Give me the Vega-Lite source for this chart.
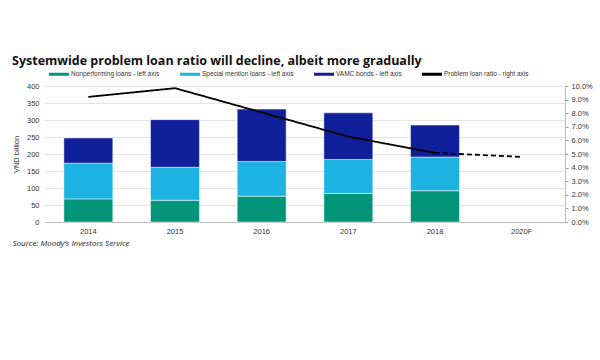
{
  "$schema": "https://vega.github.io/schema/vega-lite/v6.json",
  "width": 520,
  "height": 136,
  "autosize": {"type": "none"},
  "padding": {"left": 45, "top": 86, "right": 35, "bottom": 138},
  "background": "white",
  "config": {
    "view": {"stroke": null},
    "font": "Liberation Sans",
    "axis": {"labelFont": "Liberation Sans", "labelFontSize": 7.5, "labelColor": "#333", "titleFont": "Liberation Sans", "titleFontWeight": "normal", "titleFontSize": 7.5, "titleColor": "#333"}
  },
  "title": {
    "text": "Systemwide problem loan ratio will decline, albeit more gradually",
    "anchor": "start",
    "frame": "group",
    "font": "Open Sans",
    "fontSize": 12.5,
    "fontWeight": "bold",
    "color": "#111",
    "dx": -33,
    "offset": -7
  },
  "datasets": {
    "bars": [
      {"year": "2014", "series": "Nonperforming loans - left axis", "value": 68},
      {"year": "2014", "series": "Special mention loans - left axis", "value": 105},
      {"year": "2014", "series": "VAMC bonds - left axis", "value": 74},
      {"year": "2015", "series": "Nonperforming loans - left axis", "value": 64},
      {"year": "2015", "series": "Special mention loans - left axis", "value": 97},
      {"year": "2015", "series": "VAMC bonds - left axis", "value": 140},
      {"year": "2016", "series": "Nonperforming loans - left axis", "value": 76},
      {"year": "2016", "series": "Special mention loans - left axis", "value": 102},
      {"year": "2016", "series": "VAMC bonds - left axis", "value": 154},
      {"year": "2017", "series": "Nonperforming loans - left axis", "value": 84},
      {"year": "2017", "series": "Special mention loans - left axis", "value": 100},
      {"year": "2017", "series": "VAMC bonds - left axis", "value": 137},
      {"year": "2018", "series": "Nonperforming loans - left axis", "value": 92},
      {"year": "2018", "series": "Special mention loans - left axis", "value": 99},
      {"year": "2018", "series": "VAMC bonds - left axis", "value": 94}
    ],
    "ratio": [
      {"year": "2014", "ratio": 0.092, "segment": "actual", "series": "Problem loan ratio - right axis"},
      {"year": "2015", "ratio": 0.0984, "segment": "actual", "series": "Problem loan ratio - right axis"},
      {"year": "2016", "ratio": 0.0806, "segment": "actual", "series": "Problem loan ratio - right axis"},
      {"year": "2017", "ratio": 0.0628, "segment": "actual", "series": "Problem loan ratio - right axis"},
      {"year": "2018", "ratio": 0.0508, "segment": "actual", "series": "Problem loan ratio - right axis"},
      {"year": "2018", "ratio": 0.0508, "segment": "forecast", "series": "Problem loan ratio - right axis"},
      {"year": "2020F", "ratio": 0.0479, "segment": "forecast", "series": "Problem loan ratio - right axis"}
    ]
  },
  "encoding": {
    "x": {
      "field": "year",
      "type": "nominal",
      "scale": {"domain": ["2014", "2015", "2016", "2017", "2018", "2020F"], "paddingInner": 0.435, "paddingOuter": 0.2175},
      "axis": {
        "title": "Source: Moody\u2019s Investors Service",
        "titleFont": "Open Sans",
        "titleFontStyle": "italic",
        "titleFontSize": 8,
        "titleColor": "#222",
        "titleAnchor": "start",
        "titleAlign": "left",
        "titleX": -33,
        "titleY": 17,
        "labelAngle": 0,
        "labelPadding": 5,
        "ticks": false,
        "domain": true,
        "domainColor": "#bbb"
      }
    }
  },
  "layer": [
    {
      "data": {"name": "bars"},
      "mark": {"type": "bar", "stroke": "white", "strokeWidth": 0.5},
      "encoding": {
        "y": {
          "field": "value",
          "type": "quantitative",
          "stack": "zero",
          "scale": {"domain": [0, 400]},
          "axis": {"title": "VND billion", "titlePadding": 6, "values": [0, 50, 100, 150, 200, 250, 300, 350, 400], "domain": false, "ticks": false, "labelPadding": 6, "gridColor": "#e3e3e3", "gridWidth": 1}
        },
        "order": {"field": "series", "type": "nominal", "sort": "ascending"},
        "color": {
          "field": "series",
          "type": "nominal",
          "scale": {
            "domain": ["Nonperforming loans - left axis", "Special mention loans - left axis", "VAMC bonds - left axis", "Problem loan ratio - right axis"],
            "range": ["#02957a", "#1cb2e2", "#0f209a", "#000000"]
          },
          "legend": {
            "title": null,
            "orient": "top",
            "direction": "horizontal",
            "offset": 2,
            "padding": 4,
            "labelFont": "Liberation Sans",
            "labelFontSize": 6.5,
            "labelColor": "#333",
            "labelOffset": 2,
            "columnPadding": 20,
            "symbolSize": 400,
            "symbolType": "M-1,-0.15H1V0.15H-1Z",
            "symbolStrokeWidth": 0,
            "encode": {
              "symbols": {
                "update": {
                  "shape": {"signal": "datum.value === 'Problem loan ratio - right axis' ? 'M-1,-0.07H1V0.07H-1Z' : 'M-1,-0.15H1V0.15H-1Z'"},
                  "fill": {"signal": "datum.value === 'Problem loan ratio - right axis' ? '#000' : datum.value === 'VAMC bonds - left axis' ? '#0f209a' : datum.value === 'Special mention loans - left axis' ? '#1cb2e2' : '#02957a'"},
                  "strokeWidth": {"value": 0},
                  "opacity": {"value": 1}
                }
              }
            }
          }
        }
      }
    },
    {
      "data": {"name": "ratio"},
      "mark": {"type": "line", "strokeWidth": 1.8},
      "encoding": {
        "y": {
          "field": "ratio",
          "type": "quantitative",
          "scale": {"domain": [0, 0.1]},
          "axis": {"orient": "right", "title": null, "format": ".1%", "values": [0, 0.01, 0.02, 0.03, 0.04, 0.05, 0.06, 0.07, 0.08, 0.09, 0.1], "grid": false, "domain": true, "domainColor": "#bbb", "ticks": true, "tickColor": "#999", "tickSize": 3, "labelPadding": 3}
        },
        "color": {"field": "series", "type": "nominal"},
        "strokeDash": {
          "field": "segment",
          "type": "nominal",
          "scale": {"domain": ["actual", "forecast"], "range": [[1, 0], [5, 3]]},
          "legend": null
        }
      }
    }
  ],
  "resolve": {"scale": {"y": "independent"}}
}
